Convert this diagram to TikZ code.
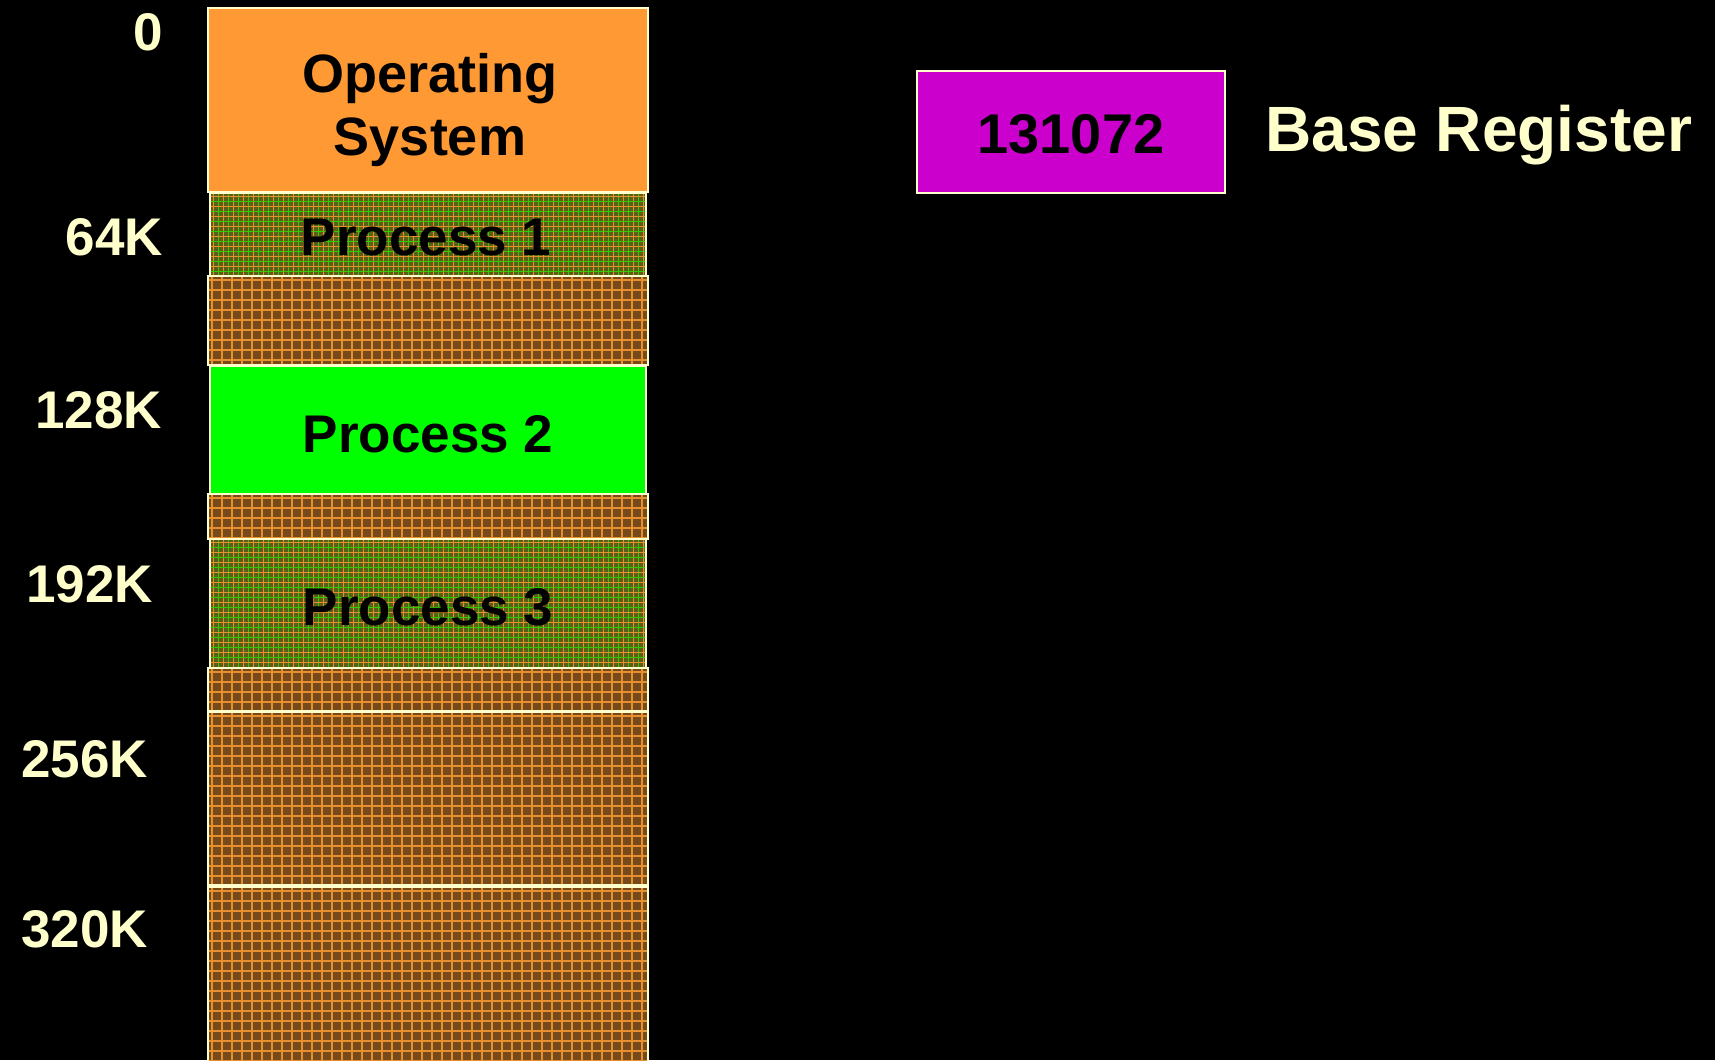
\documentclass[tikz,border=0pt]{standalone}
\usepackage{fontspec}
\setmainfont{Liberation Sans}
\definecolor{cream}{HTML}{FFFFCC}
\definecolor{osorange}{HTML}{FF9933}
\definecolor{holebrown}{HTML}{774A1C}
\definecolor{gridorange}{HTML}{E8902E}
\definecolor{procolive}{HTML}{5A5E18}
\definecolor{gridgreen}{HTML}{33CC00}
\definecolor{brightgreen}{HTML}{00FF00}
\definecolor{regmagenta}{HTML}{CC00CC}
\newcommand{\holegridpic}{%
  \foreach \k in {0,...,46} {
    \draw[gridorange, line width=1.3pt] ([xshift=\k*10pt+4pt]path picture bounding box.north west) -- ([xshift=\k*10pt+4pt]path picture bounding box.south west);
  }
  \foreach \k in {0,...,18} {
    \draw[gridorange, line width=1.3pt] ([yshift=-\k*10pt-4pt]path picture bounding box.north west) -- ([yshift=-\k*10pt-4pt]path picture bounding box.north east);
  }}
\newcommand{\procgridpic}{%
  \foreach \k in {0,...,46} {
    \draw[gridorange, line width=1pt] ([xshift=\k*10pt+3pt]path picture bounding box.north west) -- ([xshift=\k*10pt+3pt]path picture bounding box.south west);
    \draw[gridgreen, line width=1pt] ([xshift=\k*10pt+8pt]path picture bounding box.north west) -- ([xshift=\k*10pt+8pt]path picture bounding box.south west);
  }
  \foreach \k in {0,...,13} {
    \draw[gridorange, line width=1pt] ([yshift=-\k*10pt-3pt]path picture bounding box.north west) -- ([yshift=-\k*10pt-3pt]path picture bounding box.north east);
    \draw[gridgreen, line width=1pt] ([yshift=-\k*10pt-8pt]path picture bounding box.north west) -- ([yshift=-\k*10pt-8pt]path picture bounding box.north east);
  }}
\tikzset{
  memblock/.style={draw=cream, line width=2pt, anchor=north west, inner sep=0pt, outer sep=0pt},
  hole/.style={memblock, fill=holebrown, path picture={\holegridpic}},
  proc/.style={memblock, fill=procolive, path picture={\procgridpic}},
  addr/.style={text=cream, font=\fontsize{53}{53}\selectfont\bfseries, anchor=base east, inner sep=0pt},
  blocktext/.style={text=black, font=\fontsize{53}{53}\selectfont\bfseries, anchor=base, inner sep=0pt},
}
\begin{document}
\begin{tikzpicture}[x=1pt,y=-1pt]
\fill[black] (0,0) rectangle (1715,1060);
\useasboundingbox (0,0) rectangle (1715,1060);

% memory blocks
\node[memblock, fill=osorange, minimum width=440pt, minimum height=184pt] (os) at (208,8) {};
\node[proc, minimum width=436pt, minimum height=83pt] (p1) at (210,193) {};
\node[hole, minimum width=440pt, minimum height=89pt] (h1) at (208,276) {};
\node[memblock, fill=brightgreen, minimum width=436pt, minimum height=128pt] (p2) at (210,366) {};
\node[hole, minimum width=440pt, minimum height=45pt] (h2) at (208,494) {};
\node[proc, minimum width=436pt, minimum height=129pt] (p3) at (210,539) {};
\node[hole, minimum width=440pt, minimum height=43pt] (h3) at (208,668) {};
\node[hole, minimum width=440pt, minimum height=173pt] (h4) at (208,712) {};
\node[hole, minimum width=440pt, minimum height=178pt] (h5) at (208,887) {};

% block texts
\node[text=black, font=\fontsize{54}{58}\selectfont\bfseries, align=center, inner sep=0pt] (ostext) at (430,110) {Operating\\[5pt]System};
\node[blocktext] (p1text) at (426,255) {Process 1};
\node[blocktext] (p2text) at (428,452) {Process 2};
\node[blocktext] (p3text) at (428,625) {Process 3};

% address labels
\node[addr] (a0) at (163,50) {0};
\node[addr] (a64) at (163,255) {64K};
\node[addr] (a128) at (162,428) {128K};
\node[addr] (a192) at (153,602) {192K};
\node[addr] (a256) at (148,777) {256K};
\node[addr] (a320) at (148,947) {320K};

% base register
\node[memblock, fill=regmagenta, minimum width=308pt, minimum height=122pt] (reg) at (917,71) {};
\node[blocktext, font=\fontsize{56}{56}\selectfont\bfseries] (regval) at (1071,153) {131072};
\node[text=cream, font=\fontsize{64}{64}\selectfont\bfseries, anchor=base west, inner sep=0pt] (reglabel) at (1265,151) {Base Register};
\end{tikzpicture}
\end{document}
